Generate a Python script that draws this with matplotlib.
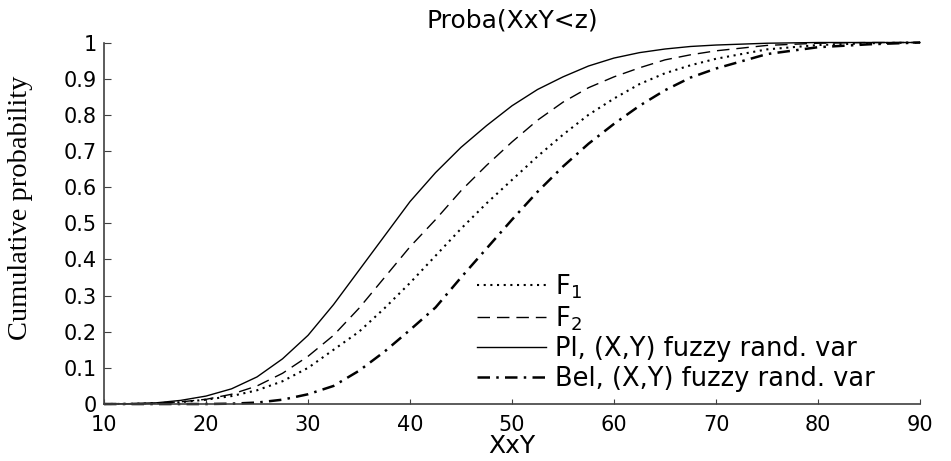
import numpy as np
import matplotlib
matplotlib.use("Agg")
import matplotlib.pyplot as plt

# values
z = [10, 12.5, 15, 17.5, 20, 22.5, 25, 27.5, 30, 32.5, 35, 37.5, 40, 42.5, 45,
     47.5, 50, 52.5, 55, 57.5, 60, 62.5, 65, 67.5, 70, 75, 80, 85, 90]
f1 = [0, 0.0005, 0.002, 0.005, 0.012, 0.022, 0.038, 0.063, 0.1, 0.15, 0.2,
      0.265, 0.335, 0.41, 0.485, 0.555, 0.62, 0.685, 0.745, 0.8, 0.845, 0.885,
      0.915, 0.937, 0.955, 0.981, 0.993, 0.998, 1.0]
f2 = [0, 0.0005, 0.002, 0.006, 0.013, 0.027, 0.05, 0.085, 0.132, 0.19, 0.265,
      0.35, 0.435, 0.51, 0.59, 0.66, 0.725, 0.785, 0.835, 0.875, 0.905, 0.93,
      0.952, 0.966, 0.977, 0.992, 0.998, 1.0, 1.0]
pl = [0, 0.001, 0.003, 0.01, 0.022, 0.042, 0.075, 0.125, 0.19, 0.275, 0.37,
      0.465, 0.56, 0.64, 0.71, 0.77, 0.825, 0.87, 0.905, 0.935, 0.957, 0.972,
      0.982, 0.989, 0.993, 0.998, 1.0, 1.0, 1.0]
bel = [0, 0, 0, 0, 0, 0.001, 0.004, 0.012, 0.027, 0.05, 0.092, 0.145, 0.205,
       0.267, 0.35, 0.43, 0.51, 0.587, 0.657, 0.72, 0.775, 0.825, 0.868, 0.903,
       0.928, 0.968, 0.987, 0.995, 1.0]

labels = ["F$_1$", "F$_2$", "Pl, (X,Y) fuzzy rand. var", "Bel, (X,Y) fuzzy rand. var"]

plt.rcParams['font.family'] = ['DejaVu Sans']

fig = plt.figure(figsize=(9.51, 4.61), dpi=100)
ax = fig.add_axes([0.1094, 0.1236, 0.858, 0.7842])

ax.plot(z, f1, color='k', lw=1.5, linestyle=(0, (1, 2.2)), label=labels[0], clip_on=False)
ax.plot(z, f2, color='k', lw=1.0, linestyle=(0, (9, 5)), label=labels[1], clip_on=False)
ax.plot(z, pl, color='k', lw=1.0, linestyle='-', label=labels[2], clip_on=False)
ax.plot(z, bel, color='k', lw=1.8, linestyle=(0, (5, 2.5, 1, 2.5)), label=labels[3], clip_on=False)

ax.set_xlim(10, 90)
ax.set_ylim(0, 1)
ax.set_xticks(np.arange(10, 91, 10))
ax.set_yticks(np.arange(0, 1.01, 0.1))
ax.set_yticklabels(['0', '0.1', '0.2', '0.3', '0.4', '0.5', '0.6', '0.7', '0.8', '0.9', '1'])

for s in ['top', 'right']:
    ax.spines[s].set_visible(False)
for s in ['left', 'bottom']:
    ax.spines[s].set_color('#404040')
    ax.spines[s].set_linewidth(1.2)

ax.tick_params(axis='both', direction='in', colors='#404040', labelcolor='k', labelsize=15)
ax.tick_params(axis='y', length=5, pad=5)
ax.tick_params(axis='x', length=3.6, pad=8)

ax.set_title("Proba(XxY<z)", fontsize=18, pad=11)
ax.set_xlabel("XxY", fontsize=18, labelpad=-1)
ax.set_ylabel("Cumulative probability", fontsize=20.5, family='Liberation Serif', va='center')
ax.yaxis.set_label_coords(-0.102, 0.544)

leg = ax.legend(loc='upper left', bbox_to_anchor=(0.457, 0.365), frameon=False,
                fontsize=18.5, borderpad=0, borderaxespad=0, handlelength=2.7,
                handletextpad=0.35, labelspacing=0.14)

fig.savefig("out.png", dpi=100)
